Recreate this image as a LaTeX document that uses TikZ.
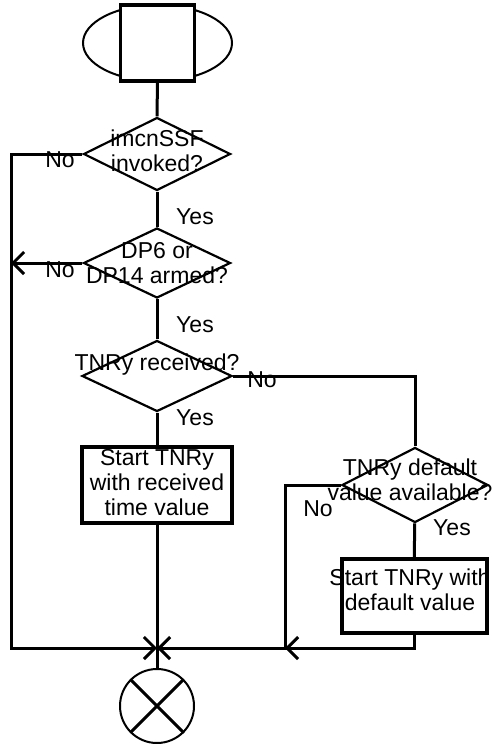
\documentclass[tikz,border=0pt]{standalone}
\usepackage{fontspec}
\setmainfont{Liberation Sans}
\usepackage{tikz}
\usetikzlibrary{shapes.geometric, arrows.meta, positioning, calc}

\begin{document}
\begin{tikzpicture}[x=1pt, y=-1pt,
    line/.style={line width=3pt},
    arr/.style={line width=3pt, -{Straight Barb[length=11pt, width=22pt]}},
    dec/.style={draw, diamond, line width=2.2pt, minimum width=147pt, minimum height=73pt, inner sep=0pt, aspect=2},
    act/.style={draw, rectangle, line width=4pt, minimum width=146pt, minimum height=74pt, inner sep=0pt},
    txt/.style={font=\fontsize{23}{25}\selectfont, align=center, inner sep=0pt},
    lbl/.style={font=\fontsize{23}{25}\selectfont, inner sep=0pt}
]
    \useasboundingbox (0,0) rectangle (493,744);

    % Start symbol
    \node (sto) [draw, ellipse, line width=2pt, minimum width=149pt, minimum height=76pt, inner sep=0pt] at (157.5,43) {};
    \node (st) [draw, rectangle, fill=white, line width=3.5pt, minimum width=74pt, minimum height=76pt, inner sep=0pt] at (157.5,43) {};

    % Decisions
    \node (d1) [dec, label={[txt, yshift=3pt]center:{imcnSSF\\invoked?}}] at (157,154) {};
    \node (d2) [dec, minimum height=70pt, label={[txt]center:{DP6 or\\DP14 armed?}}] at (157,263) {};
    \node (d3) [dec, minimum width=150pt, minimum height=71pt, label={[txt, yshift=11pt]center:{TNRy received?}}] at (157,376) {};
    \node (d4) [dec, minimum width=146pt, minimum height=75pt, label={[txt, xshift=-5pt, yshift=5pt]center:{TNRy default\\value available?}}] at (415,485) {};

    % Tasks
    \node (b1) [act, minimum width=150pt, minimum height=76pt, label={[txt, yshift=2pt]center:{Start TNRy\\with received\\time value}}] at (157,485) {};
    \node (b2) [act, minimum width=145pt, minimum height=74pt, label={[txt, xshift=-4pt, yshift=6pt]center:{Start TNRy with\\default value}}] at (414,596) {};

    % End symbol
    \node (en) [draw, circle, line width=2pt, minimum size=74pt, inner sep=0pt] at (157,706) {};
    \draw[line] (en.45) -- (en.225);
    \draw[line] (en.135) -- (en.315);

    % Junction points
    \coordinate (j) at (157,648);
    \coordinate (jl) at (11,648);
    \coordinate (jm) at (285,648);

    % Connections
    \draw[line] (st) -- (d1);
    \draw[line] (d1) -- (d2);
    \draw[line] (d2) -- (d3);
    \draw[line] (d3) -- (b1);
    \draw[line] (b1) -- (j) -- (en);
    \draw[arr] (d1.west) -| (jl) -- (j);
    \draw[arr] (d2.west) -- (d2.west -| jl);
    \draw[line] (d3.east) -| (d4.north);
    \draw[line] (d4) -- (b2);
    \draw[arr] (b2.south) |- (jm);
    \draw[arr] (d4.west) -| (jm) -- (j);

    % Branch labels
    \node[lbl] at (60,160) {No};
    \node[lbl] at (195,217) {Yes};
    \node[lbl] at (60,270) {No};
    \node[lbl] at (195,325) {Yes};
    \node[lbl] at (262,380) {No};
    \node[lbl] at (195,418) {Yes};
    \node[lbl] at (318,509) {No};
    \node[lbl] at (452,528) {Yes};
\end{tikzpicture}
\end{document}
